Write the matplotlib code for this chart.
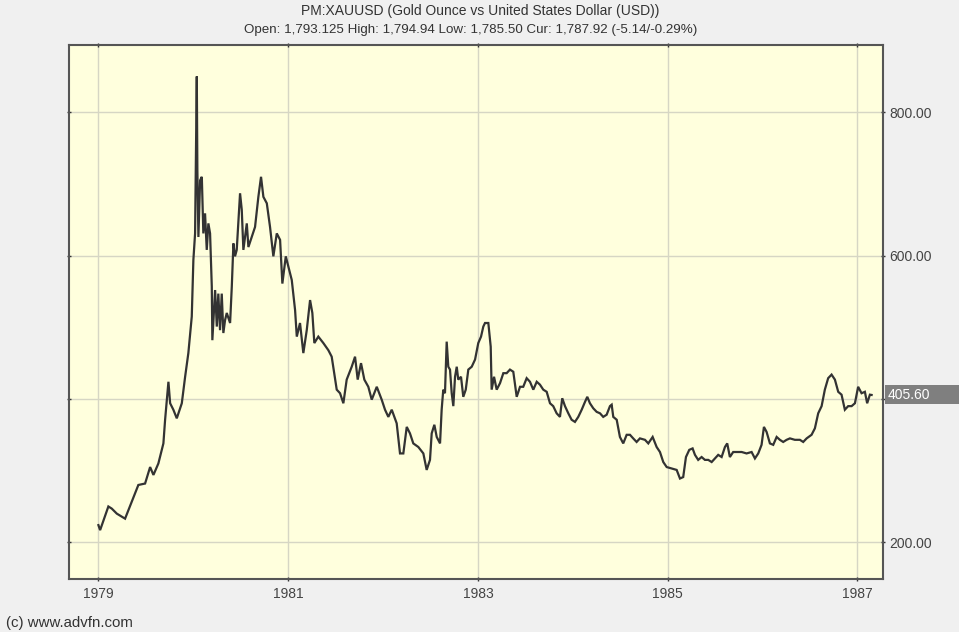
import matplotlib
matplotlib.use("Agg")
import matplotlib.pyplot as plt
from matplotlib.patches import Rectangle

plt.rcParams['font.family'] = ['Liberation Sans', 'DejaVu Sans']

# decimal year, price (USD per ounce)
years = [
    1979.000, 1979.018, 1979.105, 1979.141, 1979.194, 1979.281, 1979.421, 1979.492, 1979.545, 1979.580,
    1979.632, 1979.685, 1979.703, 1979.738, 1979.756, 1979.790, 1979.826, 1979.879, 1979.914, 1979.948,
    1979.984, 1980.001, 1980.019, 1980.037, 1980.043, 1980.054, 1980.072, 1980.090, 1980.106, 1980.124,
    1980.142, 1980.159, 1980.177, 1980.195, 1980.201, 1980.230, 1980.248, 1980.264, 1980.282, 1980.300,
    1980.317, 1980.335, 1980.353, 1980.388, 1980.406, 1980.423, 1980.440, 1980.458, 1980.493, 1980.511,
    1980.528, 1980.564, 1980.581, 1980.616, 1980.651, 1980.686, 1980.714, 1980.739, 1980.775, 1980.809,
    1980.844, 1980.880, 1980.915, 1980.939, 1980.975, 1981.002, 1981.038, 1981.073, 1981.091, 1981.125,
    1981.160, 1981.196, 1981.231, 1981.255, 1981.276, 1981.318, 1981.371, 1981.424, 1981.459, 1981.512,
    1981.547, 1981.582, 1981.617, 1981.670, 1981.705, 1981.733, 1981.768, 1981.803, 1981.845, 1981.881,
    1981.934, 1981.986, 1982.021, 1982.056, 1982.092, 1982.144, 1982.179, 1982.214, 1982.250, 1982.284,
    1982.319, 1982.372, 1982.425, 1982.460, 1982.495, 1982.513, 1982.541, 1982.566, 1982.601, 1982.618,
    1982.635, 1982.653, 1982.671, 1982.688, 1982.706, 1982.724, 1982.741, 1982.759, 1982.777, 1982.793,
    1982.822, 1982.846, 1982.872, 1982.899, 1982.935, 1982.970, 1983.004, 1983.033, 1983.057, 1983.075,
    1983.110, 1983.135, 1983.145, 1983.170, 1983.198, 1983.233, 1983.268, 1983.303, 1983.338, 1983.373,
    1983.409, 1983.444, 1983.478, 1983.514, 1983.549, 1983.584, 1983.620, 1983.654, 1983.689, 1983.725,
    1983.760, 1983.794, 1983.830, 1983.865, 1983.889, 1983.918, 1983.953, 1983.988, 1984.023, 1984.058,
    1984.094, 1984.129, 1984.153, 1984.181, 1984.216, 1984.252, 1984.287, 1984.321, 1984.357, 1984.392,
    1984.410, 1984.427, 1984.463, 1984.497, 1984.532, 1984.568, 1984.603, 1984.637, 1984.673, 1984.708,
    1984.761, 1984.796, 1984.842, 1984.884, 1984.919, 1984.954, 1984.990, 1985.042, 1985.095, 1985.130,
    1985.164, 1985.193, 1985.228, 1985.263, 1985.288, 1985.322, 1985.358, 1985.393, 1985.428, 1985.464,
    1985.498, 1985.533, 1985.569, 1985.604, 1985.628, 1985.656, 1985.691, 1985.727, 1985.780, 1985.832,
    1985.885, 1985.920, 1985.955, 1985.990, 1986.015, 1986.043, 1986.078, 1986.113, 1986.149, 1986.183,
    1986.218, 1986.254, 1986.289, 1986.341, 1986.394, 1986.429, 1986.465, 1986.517, 1986.552, 1986.587,
    1986.623, 1986.657, 1986.692, 1986.728, 1986.763, 1986.798, 1986.833, 1986.868, 1986.903, 1986.939,
    1986.974, 1987.008, 1987.044, 1987.079, 1987.103, 1987.132, 1987.150,
]
prices = [
    224, 217, 250, 247, 240, 233, 280, 282, 305, 294,
    310, 338, 371, 424, 394, 385, 373, 394, 431, 464,
    515, 594, 631, 850, 720, 626, 705, 710, 631, 659,
    608, 645, 631, 557, 482, 552, 501, 547, 496, 547,
    492, 510, 520, 506, 557, 617, 599, 608, 687, 664,
    608, 645, 612, 626, 640, 682, 710, 682, 673, 640,
    599, 631, 622, 561, 599, 585, 566, 524, 487, 506,
    464, 496, 538, 520, 478, 487, 478, 468, 459, 413,
    408, 394, 427, 445, 459, 427, 450, 427, 417, 399,
    417, 399, 385, 375, 385, 366, 324, 324, 361, 352,
    338, 333, 324, 301, 315, 352, 364, 347, 338, 385,
    413, 408, 480, 445, 441, 408, 390, 431, 445, 427,
    431, 403, 413, 441, 445, 455, 478, 487, 501, 506,
    506, 473, 413, 431, 413, 422, 436, 436, 441, 438,
    403, 417, 417, 429, 424, 413, 424, 420, 413, 410,
    394, 390, 380, 375, 401, 390, 380, 371, 368, 375,
    385, 396, 403, 394, 387, 382, 380, 375, 378, 390,
    392, 375, 371, 347, 338, 350, 350, 345, 340, 345,
    343, 338, 347, 333, 326, 312, 305, 303, 301, 289,
    291, 319, 329, 331, 322, 315, 319, 315, 315, 312,
    317, 322, 319, 333, 338, 319, 326, 326, 326, 324,
    326, 317, 324, 336, 361, 354, 338, 336, 347, 343,
    340, 343, 345, 343, 343, 340, 345, 350, 359, 380,
    390, 413, 429, 434, 427, 410, 406, 385, 390, 390,
    394, 417, 408, 410, 394, 406, 405.6,
]

x_ticks = [1979, 1981, 1983, 1985, 1987]
x_labels = ["1979", "1981", "1983", "1985", "1987"]
y_ticks = [200, 400, 600, 800]
y_labels = ["200.00", "", "600.00", "800.00"]
last_price = 405.60
title1 = "PM:XAUUSD (Gold Ounce vs United States Dollar (USD))"
title2 = "Open: 1,793.125 High: 1,794.94 Low: 1,785.50 Cur: 1,787.92 (-5.14/-0.29%)"
credit = "(c) www.advfn.com"

W, H = 959, 632
fig = plt.figure(figsize=(W / 100, H / 100), dpi=100, facecolor="#f0f0f0")
ax = fig.add_axes([69 / W, 1 - 579 / H, (883 - 69) / W, (579 - 45) / H])
ax.set_facecolor("#ffffdd")

ax.plot(years, prices, color="#333333", lw=1.6, solid_joinstyle="miter", zorder=3)

ax.set_xlim(1978.69, 1987.27)
ax.set_ylim(148.8, 893.9)
ax.set_xticks(x_ticks)
ax.set_xticklabels(x_labels)
ax.set_yticks(y_ticks)
ax.set_yticklabels(y_labels)
ax.yaxis.tick_right()
ax.grid(True, color="#d6d6c4", lw=1.0, zorder=1)
ax.tick_params(axis="both", which="both", direction="inout", length=3, width=1,
               color="#333333", labelsize=10, labelcolor="#444444", pad=3)
ax.tick_params(axis="x", top=True, bottom=True, pad=4)
ax.tick_params(axis="y", left=True, right=True)
for s in ax.spines.values():
    s.set_color("#555555")
    s.set_linewidth(1.5)

# last price box (gray band from the axis to the right edge)
y_disp = ax.transData.transform((0, last_price))[1]
y_fig = y_disp / fig.bbox.height
box_h = 19 / H
fig.add_artist(Rectangle((885 / W, y_fig - box_h / 2), (W - 885) / W, box_h,
                         transform=fig.transFigure, fc="#7f7f7f", ec="none", zorder=5))
fig.text(888 / W, y_fig, f"{last_price:.2f}", ha="left", va="center",
         fontsize=10, color="white", zorder=6)

fig.text(480 / W, 1 - 11 / H, title1, ha="center", va="center", fontsize=10, color="#333333")
fig.text(471 / W, 1 - 29.5 / H, title2, ha="center", va="center", fontsize=9.6, color="#333333")
fig.text(6 / W, 1 - 623 / H, credit, ha="left", va="center", fontsize=10.8, color="#333333")

fig.savefig("out.png", dpi=100, facecolor=fig.get_facecolor())
